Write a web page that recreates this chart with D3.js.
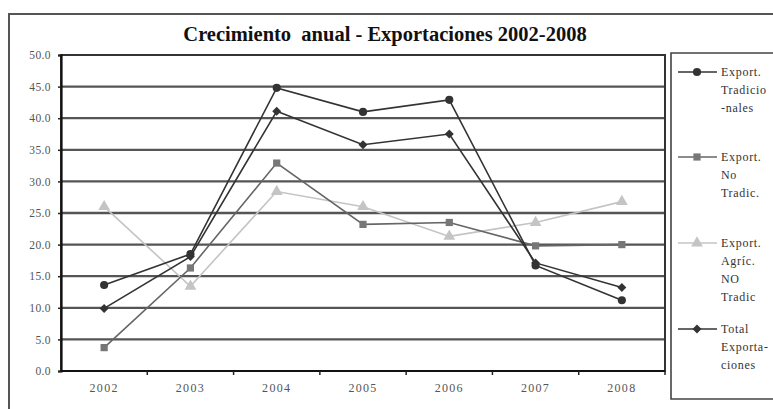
<!DOCTYPE html>
<html>
<head>
<meta charset="utf-8">
<script src="https://cdn.jsdelivr.net/npm/d3@7"></script>
<style>
  html, body { margin: 0; padding: 0; background: #fff; }
  svg { display: block; }
</style>
</head>
<body>
<svg id="chart" width="773" height="409"></svg>
<script>
// Annual growth of exports, 2002-2008 (%)
const years = ["2002", "2003", "2004", "2005", "2006", "2007", "2008"];
const tradicionales = [13.6, 18.5, 44.8, 41.0, 42.9, 16.7, 11.2];
const noTradicionales = [3.7, 16.3, 32.9, 23.2, 23.5, 19.8, 20.0];
const agricNoTradic = [26.0, 13.4, 28.4, 26.0, 21.3, 23.5, 26.8];
const totalExport = [9.9, 18.1, 41.1, 35.8, 37.5, 17.1, 13.2];
const yTicks = [0, 5, 10, 15, 20, 25, 30, 35, 40, 45, 50];
const seriesLabels = [
  ["Export.", "Tradicio", "-nales"],
  ["Export.", "No", "Tradic."],
  ["Export.", "Agríc.", "NO", "Tradic"],
  ["Total", "Exporta-", "ciones"]
];

const series = [
  { values: tradicionales, color: "#333", mcolor: "#333", shape: "circle", label: seriesLabels[0] },
  { values: noTradicionales, color: "#666", mcolor: "#777", shape: "square", label: seriesLabels[1] },
  { values: agricNoTradic, color: "#c4c4c4", mcolor: "#c4c4c4", shape: "triangle", label: seriesLabels[2] },
  { values: totalExport, color: "#333", mcolor: "#333", shape: "diamond", label: seriesLabels[3] }
];

const svg = d3.select("#chart");
const serif = "'Liberation Serif', 'DejaVu Serif', serif";

// outer chart frame (open at right and bottom)
svg.append("path")
  .attr("d", "M9,409 L9,14 L773,14")
  .attr("fill", "none").attr("stroke", "#555").attr("stroke-width", 2);

// title
svg.append("text")
  .attr("x", 385).attr("y", 41)
  .attr("text-anchor", "middle")
  .attr("font-family", serif).attr("font-weight", "bold")
  .attr("font-size", 20.5).attr("fill", "#111")
  .text("Crecimiento\u00a0 anual - Exportaciones 2002-2008");

const plot = { left: 61, right: 665, top: 55, bottom: 371 };

const x = d3.scaleBand().domain(years).range([plot.left, plot.right]);
const y = d3.scaleLinear().domain([0, 50]).range([plot.bottom, plot.top]);

// horizontal gridlines
svg.append("g").selectAll("line")
  .data(yTicks.filter(d => d > 0 && d < 50))
  .join("line")
  .attr("x1", plot.left).attr("x2", plot.right)
  .attr("y1", d => y(d)).attr("y2", d => y(d))
  .attr("stroke", "#555").attr("stroke-width", 2.3);

// plot frame
svg.append("rect")
  .attr("x", plot.left).attr("y", plot.top)
  .attr("width", plot.right - plot.left).attr("height", plot.bottom - plot.top)
  .attr("fill", "none").attr("stroke", "#333").attr("stroke-width", 2);

// y axis
const yAxis = d3.axisLeft(y).tickValues(yTicks).tickFormat(d3.format(".1f")).tickSize(3).tickPadding(7);
const gy = svg.append("g").attr("transform", `translate(${plot.left},0)`).call(yAxis);
gy.select(".domain").attr("stroke", "#111").attr("stroke-width", 2.2);
gy.selectAll(".tick line").attr("stroke", "#222").attr("stroke-width", 1.5);
gy.selectAll(".tick text").attr("font-family", serif).attr("font-size", 11.5)
  .attr("fill", "#555").attr("letter-spacing", 0.4);

// x axis: ticks between categories
const gx = svg.append("g").attr("transform", `translate(0,${plot.bottom})`);
gx.append("line")
  .attr("x1", plot.left).attr("x2", plot.right).attr("y1", 0).attr("y2", 0)
  .attr("stroke", "#111").attr("stroke-width", 2.2);
gx.selectAll("line.tk")
  .data(years.slice(1).concat(["end"]))
  .join("line").attr("class", "tk")
  .attr("x1", d => d === "end" ? plot.right : x(d)).attr("x2", d => d === "end" ? plot.right : x(d))
  .attr("y1", 0).attr("y2", 4)
  .attr("stroke", "#222").attr("stroke-width", 1.5);
gx.selectAll("text")
  .data(years).join("text")
  .attr("x", d => x(d) + x.bandwidth() / 2)
  .attr("y", 21)
  .attr("text-anchor", "middle")
  .attr("font-family", serif).attr("font-size", 12).attr("fill", "#555")
  .attr("letter-spacing", 1.3)
  .text(d => d);

const cx = (d, i) => x(years[i]) + x.bandwidth() / 2;

const symbols = {
  circle: { gen: d3.symbol(d3.symbolCircle, 52), rot: 0 },
  square: { gen: d3.symbol(d3.symbolSquare, 52), rot: 0 },
  triangle: { gen: d3.symbol(d3.symbolTriangle, 60), rot: 0 },
  diamond: { gen: d3.symbol(d3.symbolSquare, 40), rot: 45 }
};

const line = d3.line().x(cx).y(d => y(d));

// draw lighter series first so dark lines stay on top
[2, 1, 3, 0].forEach(k => {
  const s = series[k];
  const sym = symbols[s.shape];
  svg.append("path")
    .datum(s.values)
    .attr("d", line)
    .attr("fill", "none").attr("stroke", s.color).attr("stroke-width", 1.6);
  svg.append("g").selectAll("path")
    .data(s.values).join("path")
    .attr("transform", (d, i) => `translate(${cx(d, i)},${y(d)}) rotate(${sym.rot})`)
    .attr("d", sym.gen())
    .attr("fill", s.mcolor);
});

// legend
svg.append("path")
  .attr("d", "M773,53 L671,53 L671,399 L773,399")
  .attr("fill", "none").attr("stroke", "#444").attr("stroke-width", 1.6);

const legendTop = [72, 157, 243, 329];
series.forEach((s, k) => {
  const sym = symbols[s.shape];
  const g = svg.append("g").attr("transform", `translate(0,${legendTop[k]})`);
  g.append("line").attr("x1", 678).attr("x2", 717).attr("y1", 0).attr("y2", 0)
    .attr("stroke", s.color).attr("stroke-width", 1.6);
  g.append("path").attr("transform", `translate(697,0) rotate(${sym.rot})`)
    .attr("d", sym.gen()).attr("fill", s.mcolor);
  const t = g.append("text")
    .attr("font-family", serif).attr("font-size", 12).attr("fill", "#333")
    .attr("letter-spacing", 0.7);
  s.label.forEach((ln, j) => {
    t.append("tspan").attr("x", 721).attr("y", 4 + j * 18).text(ln);
  });
});
</script>
</body>
</html>
